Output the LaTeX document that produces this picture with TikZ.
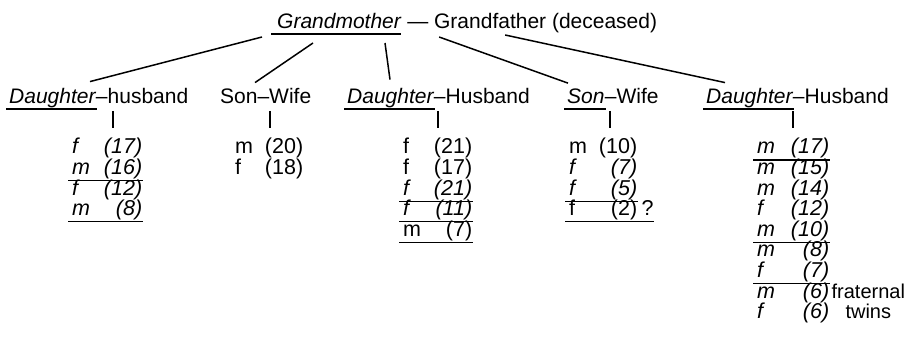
\documentclass[tikz,border=0pt]{standalone}
\usepackage{fontspec}
\setmainfont{Liberation Sans}
\usetikzlibrary{calc}
% one child: sex letter on the left, age flush right
\newcommand\agerow[3][70pt]{\hbox to #1{#2\hfill#3}}
\begin{document}
\begin{tikzpicture}[x=1pt,y=-1pt,
  txt/.style={inner sep=0pt, font=\fontsize{21}{24}\selectfont, anchor=base west},
  kid/.style={inner sep=0pt, font=\fontsize{21.5}{24}\selectfont, anchor=base west},
  note/.style={inner sep=0pt, font=\fontsize{20}{24}\selectfont, anchor=base west},
  link/.style={line width=1.5pt},
  tick/.style={line width=1.6pt},
  uline/.style={line width=1.1pt}]
\useasboundingbox (0,0) rectangle (911,344);

% grandparents
\node[txt] (gm) at (277,29) {\itshape Grandmother};
\node[txt] (gf) at ([xshift=6pt]gm.base east) {— Grandfather (deceased)};
\draw[uline] ([xshift=-6pt,yshift=-5pt]gm.base west) -- ([yshift=-5pt]gm.base east);

% children and their spouses
\node[txt] (d1) at (9,104) {\itshape Daughter};
\node[txt] (d1s) at (d1.base east) {–husband};
\node[txt] (s2) at (220,104) {Son–Wife};
\node[txt] (d3) at (347,104) {\itshape Daughter};
\node[txt] (d3s) at (d3.base east) {–Husband};
\node[txt] (s4) at (567,104) {\itshape Son};
\node[txt] (s4s) at (s4.base east) {–Wife};
\node[txt] (d5) at (706,104) {\itshape Daughter};
\node[txt] (d5s) at (d5.base east) {–Husband};
\foreach \n in {d1,d3,s4,d5}
  \draw[uline] ([xshift=-3pt,yshift=-5pt]\n.base west) -- ([xshift=1pt,yshift=-5pt]\n.base east);

% descent lines
\draw[link] ($(gm.base west)+(-15,8)$) -- ($(d1.north west)+(81,-7)$);
\draw[link] ($(gm.base west)+(36,14)$) -- ($(s2.north west)+(35,-6)$);
\draw[link] ($(gm.base west)+(108,14)$) -- ($(d3.north west)+(43,-9)$);
\draw[link] ($(gf.base west)+(32,8)$) -- ($(s4.north west)+(1,-6)$);
\draw[link] ($(gf.base west)+(98,6)$) -- ($(d5.north west)+(19,-6)$);

% grandchildren, column 1
\node[kid] (a1) at (72,154)   {\itshape\agerow{f}{(17)}};
\node[kid] (a2) at (72,174.6) {\itshape\agerow{m}{(16)}};
\node[kid] (a3) at (72,195.2) {\itshape\agerow{f}{(12)}};
\node[kid] (a4) at (72,215.8) {\itshape\agerow{m}{(8)}};
% column 2
\node[kid] (b1) at (235,154)   {\agerow[68pt]{m}{(20)}};
\node[kid] (b2) at (235,174.6) {\agerow[68pt]{f}{(18)}};
% column 3
\node[kid] (c1) at (403,154)   {\agerow[69pt]{f}{(21)}};
\node[kid] (c2) at (403,174.6) {\agerow[69pt]{f}{(17)}};
\node[kid] (c3) at (403,195.2) {\itshape\agerow[69pt]{f}{(21)}};
\node[kid] (c4) at (403,215.8) {\itshape\agerow[69pt]{f}{(11)}};
\node[kid] (c5) at (403,236.4) {\agerow[69pt]{m}{(7)}};
% column 4
\node[kid] (e1) at (569,154)   {\agerow[68pt]{m}{(10)}};
\node[kid] (e2) at (569,174.6) {\itshape\agerow[68pt]{f}{(7)}};
\node[kid] (e3) at (569,195.2) {\itshape\agerow[68pt]{f}{(5)}};
\node[kid] (e4) at (569,215.8) {\agerow[68pt]{f}{(2)}};
\node[kid] (e4q) at ([xshift=4pt]e4.base east) {?};
% column 5
\node[kid] (g1) at (757,154)   {\itshape\agerow[72pt]{m}{(17)}};
\node[kid] (g2) at (757,174.6) {\itshape\agerow[72pt]{m}{(15)}};
\node[kid] (g3) at (757,195.2) {\itshape\agerow[72pt]{m}{(14)}};
\node[kid] (g4) at (757,215.8) {\itshape\agerow[72pt]{f}{(12)}};
\node[kid] (g5) at (757,236.4) {\itshape\agerow[72pt]{m}{(10)}};
\node[kid] (g6) at (757,257)   {\itshape\agerow[72pt]{m}{(8)}};
\node[kid] (g7) at (757,277.6) {\itshape\agerow[72pt]{f}{(7)}};
\node[kid] (g8) at (757,298.2) {\itshape\agerow[72pt]{m}{(6)}};
\node[kid] (g9) at (757,318.8) {\itshape\agerow[72pt]{f}{(6)}};
\node[note] (fr) at ([xshift=2pt]g8.base east) {fraternal};
\node[note, anchor=base] (tw) at (fr.base |- g9.base) {twins};

% short lines from each couple down to their children
\foreach \cpl/\kd/\dx in {d1/a1/104, s2/b1/50, d3/c1/91, s4/e1/43, d5/g1/87}
  \draw[tick] ($(\cpl.base west)+(\dx,7)$) -- ($(\cpl.base west |- \kd.north)+(\dx,-10)$);

% underlined grandchildren
\foreach \n in {a2,a4,c3,c4,c5,e3,g1,g5,g7}
  \draw[uline] ([xshift=-4pt,yshift=-6pt]\n.base west) -- ([xshift=1pt,yshift=-6pt]\n.base east);
\draw[uline] ([xshift=-4pt,yshift=-6pt]e4.base west) -- ([yshift=-6pt]e4q.base east);
\end{tikzpicture}
\end{document}
